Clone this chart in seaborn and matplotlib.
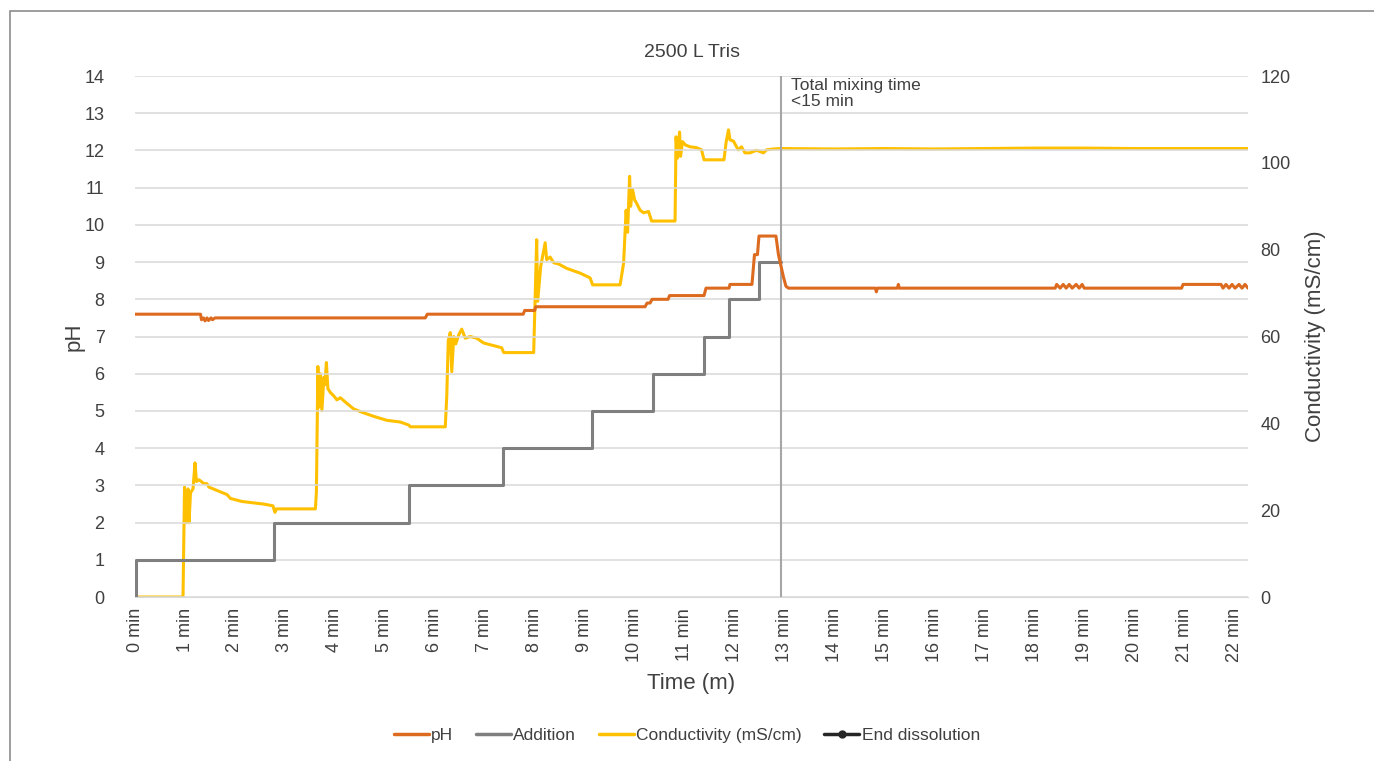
"""2500 L Tris dissolution: pH, addition steps and conductivity over time."""

import matplotlib.pyplot as plt
import pandas as pd
import seaborn as sns
from matplotlib.lines import Line2D
from matplotlib.patches import Rectangle

# pH (left axis)
ph_time = [0, 1.31, 1.33, 1.37, 1.40, 1.44, 1.47, 1.52, 1.55, 1.60, 5.81, 5.85,
           7.77, 7.80, 8.00, 8.02, 10.21, 10.25, 10.31, 10.35, 10.67, 10.70,
           11.39, 11.43, 11.89, 11.91, 12.35, 12.40, 12.46, 12.49, 12.83, 12.88,
           12.93, 12.98, 13.03, 13.08, 14.82, 14.84, 14.86, 15.26, 15.28, 15.30,
           18.42, 18.45, 18.52, 18.58, 18.64, 18.70, 18.76, 18.84, 18.90, 18.96,
           19.00, 20.95, 20.98, 21.74, 21.78, 21.84, 21.90, 21.96, 22.02, 22.10,
           22.16, 22.22, 22.28]
ph_value = [7.6, 7.6, 7.45, 7.5, 7.42, 7.5, 7.43, 7.5, 7.45, 7.5, 7.5, 7.6,
            7.6, 7.7, 7.7, 7.8, 7.8, 7.9, 7.9, 8.0, 8.0, 8.1,
            8.1, 8.3, 8.3, 8.4, 8.4, 9.2, 9.2, 9.7, 9.7, 9.2,
            8.9, 8.6, 8.35, 8.3, 8.3, 8.2, 8.3, 8.3, 8.4, 8.3,
            8.3, 8.4, 8.3, 8.4, 8.3, 8.4, 8.3, 8.4, 8.3, 8.4,
            8.3, 8.3, 8.4, 8.4, 8.3, 8.4, 8.3, 8.4, 8.3, 8.4,
            8.3, 8.4, 8.3]

# Addition steps (left axis)
add_time = [0, 0.02, 2.79, 5.49, 7.37, 9.15, 10.37, 11.39, 11.89, 12.49, 12.93]
add_value = [0, 1, 2, 3, 4, 5, 6, 7, 8, 9, 9]

# Conductivity in mS/cm (right axis)
cond_time = [0, 0.96, 0.99, 1.03, 1.06, 1.08, 1.11, 1.16, 1.20, 1.23, 1.28, 1.38,
             1.44, 1.48, 1.84, 1.91, 2.14, 2.58, 2.76, 2.80, 2.83, 3.61, 3.63,
             3.66, 3.68, 3.71, 3.74, 3.78, 3.80, 3.83, 3.86, 3.91, 3.98, 4.04,
             4.11, 4.24, 4.38, 4.58, 4.78, 5.04, 5.31, 5.48, 5.51, 6.21, 6.24,
             6.27, 6.31, 6.34, 6.38, 6.42, 6.48, 6.54, 6.61, 6.71, 6.84, 6.98,
             7.18, 7.34, 7.38, 7.98, 8.04, 8.06, 8.12, 8.21, 8.24, 8.31, 8.38,
             8.48, 8.64, 8.91, 9.11, 9.16, 9.71, 9.78, 9.83, 9.86, 9.90, 9.92,
             9.96, 10.00, 10.04, 10.11, 10.18, 10.28, 10.34, 10.81, 10.83, 10.86,
             10.90, 10.92, 10.96, 11.02, 11.11, 11.24, 11.34, 11.39, 11.79, 11.83,
             11.88, 11.91, 11.98, 12.04, 12.08, 12.14, 12.21, 12.31, 12.44, 12.58,
             12.64, 12.78, 12.93, 14.0, 15.0, 16.0, 17.0, 18.0, 19.0, 20.0, 21.0,
             22.28]
cond_value = [0, 0, 25.3, 17.1, 24.9, 17.1, 24.0, 24.9, 30.9, 26.6, 27.0, 26.1,
              26.1, 25.3, 23.6, 22.7, 22.0, 21.4, 21.0, 19.5, 20.3, 20.3, 24.0,
              53.1, 43.7, 51.4, 42.9, 50.6, 48.9, 54.0, 48.0, 47.1, 46.3, 45.4,
              45.9, 44.6, 43.3, 42.4, 41.6, 40.7, 40.3, 39.6, 39.2, 39.2, 46.3,
              59.1, 60.9, 51.9, 60.0, 58.3, 60.4, 61.7, 59.6, 60.0, 59.6, 58.5,
              57.9, 57.4, 56.3, 56.3, 82.3, 68.1, 76.1, 81.6, 77.7, 78.3, 77.0,
              76.7, 75.7, 74.6, 73.5, 71.9, 71.9, 76.9, 89.1, 84.0, 96.9, 90.0,
              93.8, 91.5, 90.7, 89.1, 88.5, 88.8, 86.6, 86.6, 106.0, 101.1,
              107.1, 101.5, 104.9, 104.1, 103.7, 103.5, 103.0, 100.7, 100.7, 104.6,
              107.6, 105.3, 105.0, 103.7, 103.0, 103.7, 102.3, 102.3, 102.9, 102.3,
              103.0, 103.2, 103.3, 103.2, 103.3, 103.2, 103.3, 103.4, 103.4, 103.3,
              103.3, 103.3]

# End of dissolution marker line (left axis)
end_time = [12.93, 12.93]
end_value = [0, 14]

x_ticks = list(range(0, 23))
x_tick_labels = [f"{m} min" for m in x_ticks]

PH_COLOR = "#DD6B1F"
ADD_COLOR = "#7F7F7F"
COND_COLOR = "#FFC000"
TEXT_COLOR = "#404040"
GRID_COLOR = "#D9D9D9"

sns.set_style("white")
plt.rcParams["font.family"] = ["Liberation Sans", "DejaVu Sans"]
plt.rcParams["text.color"] = TEXT_COLOR
plt.rcParams["axes.labelcolor"] = TEXT_COLOR
plt.rcParams["xtick.color"] = TEXT_COLOR
plt.rcParams["ytick.color"] = TEXT_COLOR

fig = plt.figure(figsize=(13.74, 7.61), dpi=100)
ax = fig.add_axes([0.0983, 0.2155, 0.81, 0.6846])
ax2 = ax.twinx()

ph_df = pd.DataFrame({"time": ph_time, "pH": ph_value})
add_df = pd.DataFrame({"time": add_time, "addition": add_value})
cond_df = pd.DataFrame({"time": cond_time, "conductivity": cond_value})
end_df = pd.DataFrame({"time": end_time, "value": end_value})

sns.lineplot(data=end_df, x="time", y="value", ax=ax, color="#A6A6A6",
             linewidth=1.5, estimator=None, sort=False, zorder=1)
sns.lineplot(data=add_df, x="time", y="addition", ax=ax, color=ADD_COLOR,
             linewidth=2.2, drawstyle="steps-post", estimator=None, sort=False, zorder=3)
sns.lineplot(data=ph_df, x="time", y="pH", ax=ax, color=PH_COLOR,
             linewidth=2.2, estimator=None, sort=False, zorder=4)
sns.lineplot(data=cond_df, x="time", y="conductivity", ax=ax2, color=COND_COLOR,
             linewidth=2.2, estimator=None, sort=False, zorder=3)

ax.set_xlim(0, 22.28)
ax.set_ylim(0, 14)
ax2.set_ylim(0, 120)
ax.set_yticks(range(0, 15))
ax2.set_yticks(range(0, 121, 20))
ax.set_xticks(x_ticks)
ax.set_xticklabels(x_tick_labels, rotation=90, fontsize=13)
ax.tick_params(axis="y", labelsize=13, length=0, pad=22)
ax2.tick_params(axis="y", labelsize=13, length=0, pad=9)
ax.tick_params(axis="x", direction="in", length=4, color=GRID_COLOR, pad=8)

ax.grid(axis="y", color=GRID_COLOR, linewidth=1.1)
ax.set_axisbelow(True)
for spine in ["left", "right", "top"]:
    ax.spines[spine].set_visible(False)
    ax2.spines[spine].set_visible(False)
ax.spines["bottom"].set_color(GRID_COLOR)
ax2.spines["bottom"].set_visible(False)
ax.set_zorder(ax2.get_zorder() + 1)
ax.patch.set_visible(False)

ax.set_xlabel("Time (m)", fontsize=16, labelpad=8)
ax.set_ylabel("pH", fontsize=16, labelpad=0)
ax2.set_ylabel("Conductivity (mS/cm)", fontsize=16, labelpad=10)
ax.set_title("2500 L Tris", fontsize=14, pad=14)

ax.text(13.13, 13.95, "Total mixing time\n<15 min", fontsize=12.5, va="top",
        ha="left", linespacing=1.1)

handles = [
    Line2D([], [], color=PH_COLOR, linewidth=2.5),
    Line2D([], [], color=ADD_COLOR, linewidth=2.5),
    Line2D([], [], color=COND_COLOR, linewidth=2.5),
    Line2D([], [], color="#262626", linewidth=2.5, marker="o", markersize=5),
]
labels = ["pH", "Addition", "Conductivity (mS/cm)", "End dissolution"]
fig.legend(handles, labels, loc="center", bbox_to_anchor=(0.5, 0.033), ncol=4,
           frameon=False, handlelength=2.0, handletextpad=0.15, columnspacing=1.3,
           prop={"family": ["Liberation Sans Narrow", "Liberation Sans"], "size": 12.5})

fig.patches.append(Rectangle((10 / 1374, -0.1), 2, 1 - 11 / 761 + 0.1,
                             transform=fig.transFigure, fill=False,
                             edgecolor="#8C8C8C", linewidth=1.2))

fig.savefig("out.png", dpi=100)
